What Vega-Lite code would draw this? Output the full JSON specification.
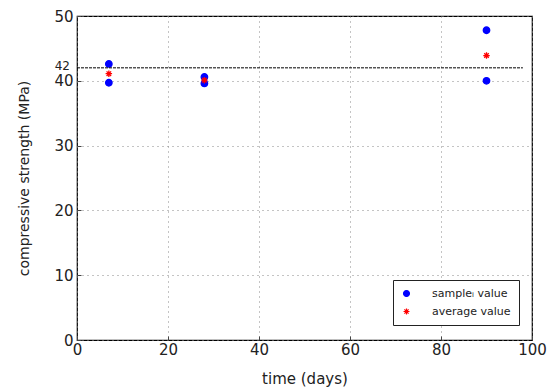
{
  "$schema": "https://vega.github.io/schema/vega-lite/v6.json",
  "width": 455,
  "height": 324,
  "autosize": "none",
  "padding": {"left": 77, "top": 16, "right": 22, "bottom": 51},
  "background": "white",
  "config": {
    "font": "DejaVu Sans",
    "view": {"stroke": "black", "strokeWidth": 1.2},
    "axis": {
      "labelFont": "DejaVu Sans",
      "titleFont": "DejaVu Sans",
      "labelColor": "#222",
      "titleColor": "#222",
      "titleFontWeight": "normal",
      "labelFontSize": 15,
      "titleFontSize": 14,
      "labelFlush": false,
      "grid": true,
      "gridColor": "#888",
      "gridDash": [1, 4],
      "domain": false,
      "tickColor": "#444",
      "tickSize": -4,
      "labelPadding": 6
    }
  },
  "layer": [
    {
      "data": {"values": [
        {"day": 7, "strength": 42.6, "type": "sampleᵢ value"},
        {"day": 7, "strength": 39.7, "type": "sampleᵢ value"},
        {"day": 28, "strength": 40.6, "type": "sampleᵢ value"},
        {"day": 28, "strength": 39.6, "type": "sampleᵢ value"},
        {"day": 90, "strength": 47.8, "type": "sampleᵢ value"},
        {"day": 90, "strength": 40.0, "type": "sampleᵢ value"},
        {"day": 7, "strength": 41.1, "type": "average value"},
        {"day": 28, "strength": 40.1, "type": "average value"},
        {"day": 90, "strength": 43.9, "type": "average value"}
      ]},
      "mark": {"type": "point", "size": 42, "strokeWidth": 1.3, "opacity": 1},
      "encoding": {
        "x": {
          "field": "day", "type": "quantitative",
          "scale": {"domain": [0, 100], "nice": false},
          "axis": {"values": [0, 20, 40, 60, 80, 100], "title": "time (days)", "titlePadding": 14, "titleFontSize": 15}
        },
        "y": {
          "field": "strength", "type": "quantitative",
          "scale": {"domain": [0, 50], "nice": false},
          "axis": {"values": [0, 10, 20, 30, 40, 50], "title": "compressive strength (MPa)", "titlePadding": 22, "labelPadding": 8}
        },
        "shape": {
          "field": "type", "type": "nominal",
          "scale": {"domain": ["sampleᵢ value", "average value"], "range": ["circle", "M-1,0L1,0M0,-1L0,1M-0.7,-0.7L0.7,0.7M-0.7,0.7L0.7,-0.7"]},
          "legend": {"title": null}
        },
        "fill": {
          "field": "type", "type": "nominal",
          "scale": {"domain": ["sampleᵢ value", "average value"], "range": ["#0000ff", "transparent"]},
          "legend": {"title": null}
        },
        "stroke": {
          "field": "type", "type": "nominal",
          "scale": {"domain": ["sampleᵢ value", "average value"], "range": ["#0000ff", "#ff0000"]},
          "legend": {
            "title": null,
            "orient": "none",
            "legendX": 316,
            "legendY": 264,
            "padding": 8,
            "strokeColor": "#222",
            "fillColor": "white",
            "labelFontSize": 11,
            "labelFont": "DejaVu Sans",
            "labelColor": "#222",
            "labelOffset": 20,
            "rowPadding": 6,
            "symbolSize": 35,
            "symbolStrokeWidth": 1.2
          }
        }
      }
    },
    {
      "data": {"values": [{"x1": 0, "x2": 98, "y": 42}]},
      "mark": {"type": "rule", "color": "black", "strokeDash": [3, 1], "strokeWidth": 1},
      "encoding": {
        "x": {"field": "x1", "type": "quantitative"},
        "x2": {"field": "x2"},
        "y": {"field": "y", "type": "quantitative"}
      }
    },
    {
      "data": {"values": [{"x": 0, "y": 42, "label": "42"}]},
      "mark": {"type": "text", "align": "right", "baseline": "middle", "dx": -7, "dy": -2, "fontSize": 12, "color": "#222", "font": "DejaVu Sans"},
      "encoding": {
        "x": {"field": "x", "type": "quantitative"},
        "y": {"field": "y", "type": "quantitative"},
        "text": {"field": "label"}
      }
    }
  ]
}
